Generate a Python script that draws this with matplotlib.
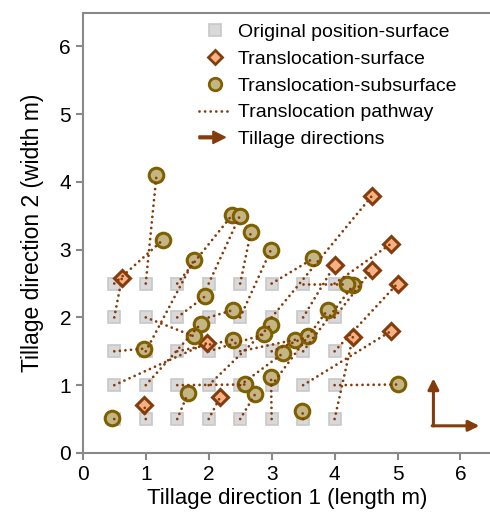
import numpy as np
import matplotlib.pyplot as plt
from matplotlib.patches import FancyArrow
from matplotlib.legend_handler import HandlerPatch
from matplotlib.lines import Line2D

plt.rcParams['font.family'] = ['Liberation Sans', 'DejaVu Sans']

# Original positions (grid) and where each tracer ended up
orig_x = [0.5, 1, 1.5, 2, 2.5, 3, 3.5, 4,
          0.5, 1, 1.5, 2, 2.5, 3, 3.5, 4,
          0.5, 1, 1.5, 2, 2.5, 3, 3.5, 4,
          0.5, 1, 1.5, 2, 2.5, 3, 3.5, 4,
          0.5, 1, 1.5, 2, 2.5, 3, 3.5, 4]
orig_y = [0.5] * 8 + [1.0] * 8 + [1.5] * 8 + [2.0] * 8 + [2.5] * 8
dest_x = [0.47, 0.98, 1.67, 2.18, 2.74, 2.99, 3.49, 4.29,
          1.97, 1.88, 2.58, 2.99, 3.18, 3.89, 4.90, 5.00,
          0.98, 1.77, 2.38, 2.88, 3.37, 3.58, 4.30, 5.00,
          0.62, 1.77, 1.94, 2.39, 2.99, 4.59, 4.00, 4.59,
          1.28, 1.17, 2.37, 2.49, 2.67, 3.66, 4.20, 4.90]
dest_y = [0.52, 0.71, 0.88, 0.82, 0.87, 1.12, 0.62, 1.71,
          1.62, 1.91, 1.01, 1.89, 1.47, 2.11, 1.80, 1.01,
          1.54, 2.85, 1.67, 1.75, 1.67, 1.72, 2.48, 2.50,
          2.58, 1.72, 2.31, 2.11, 3.00, 3.79, 2.77, 2.70,
          3.15, 4.10, 3.51, 3.49, 3.26, 2.87, 2.50, 3.09]
# s = surface (diamond), u = subsurface (circle)
layer = ['u', 's', 'u', 's', 'u', 'u', 'u', 's',
         's', 'u', 'u', 'u', 'u', 'u', 's', 'u',
         'u', 'u', 'u', 'u', 'u', 'u', 'u', 's',
         's', 'u', 'u', 'u', 'u', 's', 's', 's',
         'u', 'u', 'u', 'u', 'u', 'u', 'u', 's']

brown = '#843C0C'
gray = '#898989'
dots = (0, (0.01, 2.0))

fig = plt.figure(figsize=(4.9, 5.23), dpi=100)
ax = fig.add_axes([0.169, 0.134, 0.835, 0.842])

ox = np.array(orig_x)
oy = np.array(orig_y)
dx = np.array(dest_x)
dy = np.array(dest_y)
surf = np.array(layer) == 's'

ax.plot(ox, oy, 's', ms=8.5, mfc='#D9D9D9', mec='#C8C8C8', mew=1.2, ls='none', zorder=2)
ax.plot(dx[surf], dy[surf], 'D', ms=8.5, mfc='#F4B183', mec=brown, mew=2.2, ls='none', zorder=3)
ax.plot(dx[~surf], dy[~surf], 'o', ms=10.5, mfc='#C4B584', mec='#7F6000', mew=2.2, ls='none', zorder=3)

# pathways drawn on top of the markers
for x0, y0, x1, y1 in zip(ox, oy, dx, dy):
    ax.plot([x0, x1], [y0, y1], color=brown, lw=2.0, ls=dots,
            dash_capstyle='round', zorder=4)

# tillage direction arrows
ax.annotate('', xy=(5.57, 1.1), xytext=(5.57, 0.4),
            arrowprops=dict(arrowstyle='-|>', color=brown, lw=2.2, mutation_scale=16,
                            shrinkA=0, shrinkB=0))
ax.annotate('', xy=(6.3, 0.4), xytext=(5.55, 0.4),
            arrowprops=dict(arrowstyle='-|>', color=brown, lw=2.2, mutation_scale=16,
                            shrinkA=0, shrinkB=0))

ax.set_xlim(0, 6.5)
ax.set_ylim(0, 6.5)
ax.set_xticks(range(7))
ax.set_yticks(range(7))
ax.tick_params(labelsize=15, length=5, width=1.5, color=gray)
for side in ['left', 'bottom', 'top']:
    ax.spines[side].set_color(gray)
    ax.spines[side].set_linewidth(1.5)
ax.spines['right'].set_visible(False)
ax.set_xlabel('Tillage direction 1 (length m)', fontsize=16, labelpad=3)
ax.set_ylabel('Tillage direction 2 (width m)', fontsize=16.5, labelpad=11)


def make_arrow(legend, orig_handle, xdescent, ydescent, width, height, fontsize):
    return FancyArrow(-xdescent, height / 2 - ydescent, width * 0.8, 0, width=2.0,
                      head_width=9, head_length=9, length_includes_head=True)


handles = [
    Line2D([], [], marker='s', ms=8.5, mfc='#D9D9D9', mec='#C8C8C8', mew=1.2, ls='none'),
    Line2D([], [], marker='D', ms=7, mfc='#F4B183', mec=brown, mew=2, ls='none'),
    Line2D([], [], marker='o', ms=9, mfc='#C4B584', mec='#7F6000', mew=2, ls='none'),
    Line2D([], [], color=brown, lw=2.0, ls=dots, dash_capstyle='round'),
    FancyArrow(0, 0, 1, 0, color=brown),
]
labels = ['Original position-surface', 'Translocation-surface',
          'Translocation-subsurface', 'Translocation pathway', 'Tillage directions']
fig.legend(handles, labels, loc='upper left', bbox_to_anchor=(0.406, 0.955),
           frameon=False, fontsize=14, handlelength=1.7, handletextpad=0.3,
           labelspacing=0.47, borderpad=0, borderaxespad=0,
           handler_map={FancyArrow: HandlerPatch(patch_func=make_arrow)})

fig.savefig('out.png', dpi=100)
